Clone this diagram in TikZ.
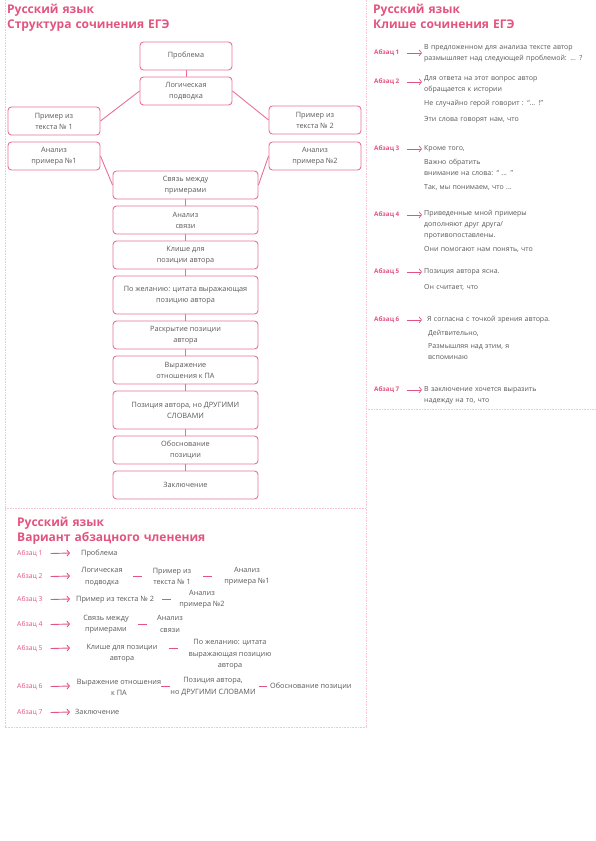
\documentclass[tikz,border=0pt]{standalone}
\usepackage{fontspec}
\setmainfont{Open Sans}
\usetikzlibrary{arrows.meta,calc}
\definecolor{pk}{RGB}{226,84,128}
\definecolor{pkb}{RGB}{230,112,152}
\definecolor{pkl}{RGB}{246,196,214}
\definecolor{txt}{RGB}{88,88,88}
\begin{document}
\begin{tikzpicture}[x=1pt,y=-1pt,
  bx/.style={draw=pkb, line width=0.9pt, rounded corners=3.5pt, inner sep=0pt,
    align=center, text=txt, font=\fontsize{7.3}{11}\selectfont},
  sbox/.style={bx, minimum width=92pt, minimum height=28pt},
  wbox/.style={bx, minimum width=145pt, minimum height=28pt},
  tbox/.style={bx, minimum width=145pt, minimum height=38pt},
  lnk/.style={draw=pkb, line width=0.9pt},
  ttl/.style={font=\fontsize{12}{15}\selectfont\bfseries, text=pk, align=left,
    text width=230pt, anchor=base west, inner sep=0pt},
  rlab/.style={font=\fontsize{6.3}{8}\selectfont\bfseries, text=pk, anchor=mid west, inner sep=0pt},
  rtxt/.style={font=\fontsize{7}{11}\selectfont, text=txt, align=left, text width=170pt,
    anchor=mid west, inner sep=0pt},
  arr/.style={draw=pk, line width=0.7pt, -{Straight Barb[length=2.5pt,width=6pt]}},
  blab/.style={font=\fontsize{6.8}{9}\selectfont, text=pk, anchor=mid west, inner sep=0pt},
  btxt/.style={font=\fontsize{7.3}{11.5}\selectfont, text=txt, align=center, inner sep=0pt},
  bl/.style={btxt, anchor=mid west},
  bdash/.style={draw=pk, line width=0.8pt},
  brd/.style={draw=pkl, line width=0.8pt, dash pattern=on 0.8pt off 0.8pt}
]
\useasboundingbox (0,0) rectangle (595,841);

% borders
\draw[brd] (5,0) -- (5,727) -- (366,727) -- (366,0);
\draw[brd] (5,508) -- (366,508);
\draw[brd] (366,409) -- (595,409);

% ---------- top-left: structure ----------
\node[ttl] (t1) at (7,13) {Русский язык\\Структура сочинения ЕГЭ};

\node[sbox] (prob)  at (186,56)  {Проблема};
\node[sbox] (logic) at (186,91)  {Логическая\\подводка};
\node[sbox] (ex1)   at (54,121)  {Пример из\\текста № 1};
\node[sbox] (an1)   at (54,156)  {Анализ\\примера №1};
\node[sbox] (ex2)   at (315,120) {Пример из\\текста № 2};
\node[sbox] (an2)   at (315,156) {Анализ\\примера №2};
\node[wbox] (link)  at (185.5,185) {Связь между\\примерами};
\node[wbox] (anl)   at (185.5,220) {Анализ\\связи};
\node[wbox] (cli)   at (185.5,255) {Клише для\\позиции автора};
\node[tbox] (wish)  at (185.5,295) {По желанию: цитата выражающая\\позицию автора};
\node[wbox] (rev)   at (185.5,335) {Раскрытие позиции\\автора};
\node[wbox] (expr)  at (185.5,370) {Выражение\\отношения к ПА};
\node[tbox] (pos)   at (185.5,410) {Позиция автора, но ДРУГИМИ\\СЛОВАМИ};
\node[wbox] (just)  at (185.5,450) {Обоснование\\позиции};
\node[wbox] (concl) at (185.5,485) {Заключение};

\draw[lnk] (prob.south) -- (logic.north);
\draw[lnk] (logic.west) -- (ex1.east);
\draw[lnk] (logic.east) -- (ex2.west);
\draw[lnk] (an1.east) -- (link.west);
\draw[lnk] (an2.west) -- (link.east);
\draw[lnk] (link.south) -- (anl.north);
\draw[lnk] (anl.south) -- (cli.north);
\draw[lnk] (cli.south) -- (wish.north);
\draw[lnk] (wish.south) -- (rev.north);
\draw[lnk] (rev.south) -- (expr.north);
\draw[lnk] (expr.south) -- (pos.north);
\draw[lnk] (pos.south) -- (just.north);
\draw[lnk] (just.south) -- (concl.north);

% ---------- right: cliches ----------
\node[ttl] (t2) at (373,13) {Русский язык\\Клише сочинения ЕГЭ};

\node[rlab] (a1) at (374,52)  {Абзац 1};
\node[rlab] (a2) at (374,81)  {Абзац 2};
\node[rlab] (a3) at (374,148) {Абзац 3};
\node[rlab] (a4) at (374,214) {Абзац 4};
\node[rlab] (a5) at (374,271) {Абзац 5};
\node[rlab] (a6) at (374,319) {Абзац 6};
\node[rlab] (a7) at (374,389) {Абзац 7};

\node[rtxt] (r1)  at (424,47)  {В предложенном для анализа тексте автор\\размышляет над следующей проблемой: ... ?};
\node[rtxt] (r2a) at (424,78)  {Для ответа на этот вопрос автор\\обращается к истории};
\node[rtxt] (r2b) at (424,103) {Не случайно герой говорит : “... !”};
\node[rtxt] (r2c) at (424,119) {Эти слова говорят нам, что};
\node[rtxt] (r3a) at (424,148) {Кроме того,};
\node[rtxt] (r3b) at (424,162) {Важно обратить\\внимание на слова: “ ... ”};
\node[rtxt] (r3c) at (424,187) {Так, мы понимаем, что ...};
\node[rtxt] (r4a) at (424,213) {Приведенные мной примеры\\дополняют друг друга/\\противопоставлены.};
\node[rtxt] (r4b) at (424,249) {Они помогают нам понять, что};
\node[rtxt] (r5a) at (424,271) {Позиция автора ясна.};
\node[rtxt] (r5b) at (424,287) {Он считает, что};
\node[rtxt] (r6a) at (427,319) {Я согласна с точкой зрения автора.};
\node[rtxt] (r6b) at (428,333) {Дейтвительно,};
\node[rtxt] (r6c) at (428,346) {Размышляя над этим, я\\вспоминаю};
\node[rtxt] (r7)  at (424,389) {В заключение хочется выразить\\надежду на то, что};

\foreach \l/\r in {a1/r1,a2/r2a,a3/r3a,a4/r4a,a5/r5a,a7/r7}
  \draw[arr, shorten <=7pt, shorten >=2pt] (\l.east) -- (\r.west |- \l.east);
\draw[arr, shorten <=7pt, shorten >=5pt] (a6.east) -- (r6a.west |- a6.east);

% ---------- bottom: paragraphs ----------
\node[ttl] (t3) at (17,526) {Русский язык\\Вариант абзацного членения};

\node[blab] (b1) at (17,553) {Абзац 1};
\node[blab] (b2) at (17,576) {Абзац 2};
\node[blab] (b3) at (17,599) {Абзац 3};
\node[blab] (b4) at (17,624) {Абзац 4};
\node[blab] (b5) at (17,648) {Абзац 5};
\node[blab] (b6) at (17,686) {Абзац 6};
\node[blab] (b7) at (17,712) {Абзац 7};

\coordinate (e1) at (70,553);
\coordinate (e2) at (70,576);
\coordinate (e3) at (70,599);
\coordinate (e4) at (70,624);
\coordinate (e5) at (70,648);
\coordinate (e6) at (70,686);
\coordinate (e7) at (70,712);
\foreach \i in {1,...,7}
  \draw[arr, line width=0.9pt, shorten <=8pt] (b\i.east) -- (e\i);

\node[bl]   (c1)  at (81,553)    {Проблема};
\node[btxt] (c21) at (102,576.5) {Логическая\\подводка};
\node[btxt] (c22) at (172,576.5) {Пример из\\текста № 1};
\node[btxt] (c23) at (247,576.5) {Анализ\\примера №1};
\node[bl]   (c31) at (76,599)    {Пример из текста № 2};
\node[btxt] (c32) at (202,599.5) {Анализ\\примера №2};
\node[btxt] (c41) at (106,624)   {Связь между\\примерами};
\node[btxt] (c42) at (170,624)   {Анализ\\связи};
\node[btxt] (c51) at (122,653.5) {Клише для позиции\\автора};
\node[btxt] (c52) at (230,654.5) {По желанию: цитата\\выражающая позицию\\автора};
\node[btxt] (c61) at (119,687.5) {Выражение отношения\\к ПА};
\node[btxt] (c62) at (213,686.5) {Позиция автора,\\но ДРУГИМИ СЛОВАМИ};
\node[bl]   (c63) at (270,686)   {Обоснование позиции};
\node[bl]   (c7)  at (75,712)    {Заключение};

\coordinate (m21) at ($(c21.east)!.5!(c22.west)$);
\coordinate (m22) at ($(c22.east)!.5!(c23.west)$);
\coordinate (m3)  at ($(c31.east)!.5!(c32.west)$);
\coordinate (m4)  at ($(c41.east)!.5!(c42.west)$);
\coordinate (m5)  at ($(c51.east)!.5!(c52.west)$);
\coordinate (m61) at ($(c61.east)!.5!(c62.west)$);
\coordinate (m62) at ($(c62.east)!.5!(c63.west)$);
\draw[bdash] (m21 |- b2.east) ++(-4.5,0) -- ++(9,0);
\draw[bdash] (m22 |- b2.east) ++(-4.5,0) -- ++(9,0);
\draw[bdash] (m3 |- b3.east) ++(-4.5,0) -- ++(9,0);
\draw[bdash] (m4 |- b4.east) ++(-4.5,0) -- ++(9,0);
\draw[bdash] (m5 |- b5.east) ++(-4.5,0) -- ++(9,0);
\draw[bdash] (m61 |- b6.east) ++(-4.5,0) -- ++(9,0);
\draw[bdash] (m62 |- b6.east) ++(-4,0) -- ++(8,0);
\end{tikzpicture}
\end{document}
